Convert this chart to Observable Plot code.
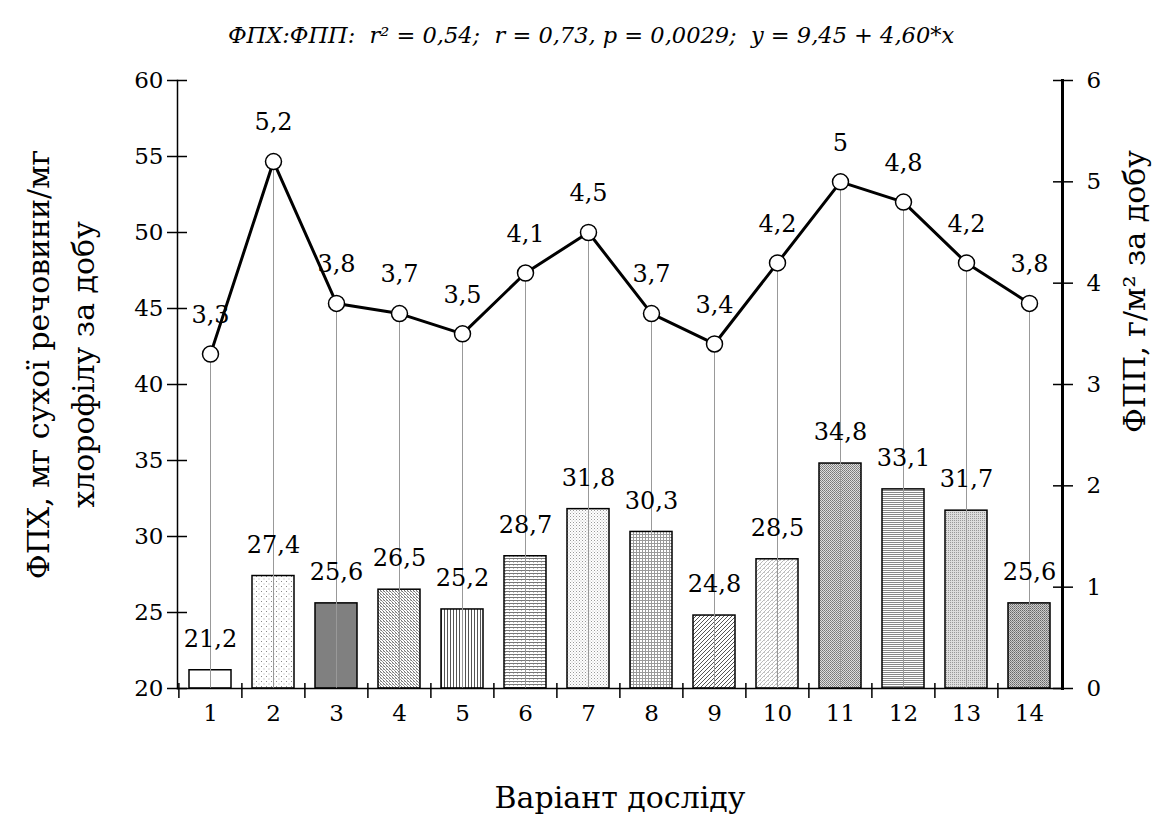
<!DOCTYPE html>
<html><head><meta charset="utf-8">
<script src="https://cdn.jsdelivr.net/npm/d3@7"></script>
<script src="https://cdn.jsdelivr.net/npm/@observablehq/plot@0.6"></script>
<style>
body{margin:0;background:#fff}
svg text{white-space:pre;}
</style>
</head><body><div id="chart"></div>
<script>
const variants = ["1","2","3","4","5","6","7","8","9","10","11","12","13","14"];
const fph = [21.2, 27.4, 25.6, 26.5, 25.2, 28.7, 31.8, 30.3, 24.8, 28.5, 34.8, 33.1, 31.7, 25.6];
const fpp = [3.3, 5.2, 3.8, 3.7, 3.5, 4.1, 4.5, 3.7, 3.4, 4.2, 5.0, 4.8, 4.2, 3.8];
const fphTicks = [20, 25, 30, 35, 40, 45, 50, 55, 60];
const fppTicks = [0, 1, 2, 3, 4, 5, 6];
const barPatterns = ["p1","p2","p3","p4","p5","p6","p7","p8","p9","p10","p11","p12","p13","p14"];
const titleText = "ФПХ:ФПП:  r² = 0,54;  r = 0,73, p = 0,0029;  y = 9,45 + 4,60*x";
const xTitle = "Варіант досліду";
const yTitleLeft = "ФПХ, мг сухої речовини/мг\nхлорофілу за добу";
const yTitleRight = "ФПП, г/м² за добу";

const toLeft = v => 20 + v * 40 / 6;
const toRight = v => (v - 20) * 6 / 40;
const fmt = v => String(v).replace(".", ",");
const rows = variants.map((v, i) => ({v, fph: fph[i], fpp: fpp[i], pat: `url(#${barPatterns[i]})`}));

const W = 1156, H = 816, mL = 177, mR = 94, mT = 80, mB = 128;
const step = (W - mL - mR) / variants.length;
const FF = "DejaVu Serif";

const chart = Plot.plot({
  width: W, height: H,
  marginLeft: mL, marginRight: mR, marginTop: mT, marginBottom: mB,
  style: {fontFamily: FF, fontSize: "23px", background: "#fff", color: "#000"},
  x: {type: "band", domain: variants, paddingInner: 0.33, paddingOuter: 0.165, label: null},
  y: {domain: [20, 60], label: null},
  marks: [
    Plot.barY(rows, {x: "v", y1: 20, y2: "fph", fill: "pat", stroke: "#000", strokeWidth: 1.5}),
    Plot.ruleX(rows, {x: "v", y1: 20, y2: d => toLeft(d.fpp), stroke: "#999", strokeWidth: 1}),
    Plot.line(rows, {x: "v", y: d => toLeft(d.fpp), stroke: "#000", strokeWidth: 3}),
    Plot.dot(rows, {x: "v", y: d => toLeft(d.fpp), r: 8, fill: "#fff", stroke: "#000", strokeWidth: 1.5}),
    Plot.text(rows, {x: "v", y: "fph", text: d => fmt(d.fph), dy: -31, fontSize: 24, fontFamily: FF, lineAnchor: "middle", fill: "#000"}),
    Plot.text(rows, {x: "v", y: d => toLeft(d.fpp), text: d => fmt(d.fpp), dy: -39, fontSize: 24, fontFamily: FF, lineAnchor: "middle", fill: "#000"}),
    Plot.frame({anchor: "left", stroke: "#000", strokeWidth: 1.5}),
    Plot.frame({anchor: "right", stroke: "#000", strokeWidth: 3}),
    Plot.frame({anchor: "bottom", stroke: "#000", strokeWidth: 1.5}),
    Plot.axisY({ticks: fphTicks, tickSize: 20, dx: 10, tickPadding: 4, fontSize: 23, fontFamily: FF, strokeWidth: 1.5}),
    Plot.axisY({anchor: "right", ticks: fppTicks.map(toLeft), tickFormat: d => String(Math.round(toRight(d))), tickSize: 20, dx: -10, tickPadding: 14, fontSize: 23, fontFamily: FF, strokeWidth: 1.5}),
    Plot.axisX({tickSize: 15, dx: -step / 2, dy: -5, tickFormat: () => "", strokeWidth: 1.5}),
    Plot.axisX({tickSize: 0, tickPadding: 16, fontSize: 23, fontFamily: FF}),
    Plot.text([titleText], {frameAnchor: "top", dx: -29, dy: -45, fontSize: 22.5, fontStyle: "italic", fontFamily: FF, lineAnchor: "middle", fill: "#000"}),
    Plot.text([xTitle], {frameAnchor: "bottom", dy: 110, fontSize: 30, fontFamily: FF, lineAnchor: "middle", fill: "#000"}),
    Plot.text([yTitleLeft], {frameAnchor: "left", textAnchor: "middle", dx: -120, dy: -20, rotate: -90, fontSize: 30, fontFamily: FF, lineHeight: 1.5, lineAnchor: "middle", fill: "#000"}),
    Plot.text([yTitleRight], {frameAnchor: "right", textAnchor: "middle", dx: 73, dy: -93, rotate: -90, fontSize: 30, fontFamily: FF, lineAnchor: "middle", fill: "#000"})
  ]
});

const defs = `
<defs>
<pattern id="p1" patternUnits="userSpaceOnUse" width="4" height="4"><rect width="4" height="4" fill="#fff"/></pattern>
<pattern id="p2" patternUnits="userSpaceOnUse" width="5" height="5"><rect width="5" height="5" fill="#fff"/><rect x="1" y="1" width="1" height="1" fill="#888"/><rect x="3.5" y="3.5" width="1" height="1" fill="#aaa"/></pattern>
<pattern id="p3" patternUnits="userSpaceOnUse" width="4" height="4"><rect width="4" height="4" fill="#808080"/></pattern>
<pattern id="p4" patternUnits="userSpaceOnUse" width="3" height="3"><rect width="3" height="3" fill="#fff"/><rect x="0" y="0" width="1" height="1" fill="#777"/><rect x="1" y="1" width="1" height="1" fill="#999"/><rect x="2" y="2" width="1" height="1" fill="#777"/><rect x="2" y="0" width="1" height="1" fill="#bbb"/></pattern>
<pattern id="p5" patternUnits="userSpaceOnUse" width="3" height="3"><rect width="3" height="3" fill="#fff"/><rect x="0" y="0" width="1" height="3" fill="#555"/></pattern>
<pattern id="p6" patternUnits="userSpaceOnUse" width="4" height="3"><rect width="4" height="3" fill="#fff"/><rect x="0" y="0" width="4" height="1" fill="#777"/><rect x="1" y="1" width="1" height="1" fill="#bbb"/></pattern>
<pattern id="p7" patternUnits="userSpaceOnUse" width="3" height="3"><rect width="3" height="3" fill="#fff"/><rect x="0" y="0" width="1" height="1" fill="#999"/><rect x="1.5" y="1.5" width="1" height="1" fill="#bbb"/></pattern>
<pattern id="p8" patternUnits="userSpaceOnUse" width="3" height="3"><rect width="3" height="3" fill="#fff"/><rect x="0" y="0" width="3" height="1" fill="#999"/><rect x="0" y="0" width="1" height="3" fill="#999"/></pattern>
<pattern id="p9" patternUnits="userSpaceOnUse" width="4" height="4"><rect width="4" height="4" fill="#fff"/><path d="M-1,1 L1,-1 M0,4 L4,0 M3,5 L5,3" stroke="#555" stroke-width="1"/></pattern>
<pattern id="p10" patternUnits="userSpaceOnUse" width="4" height="4"><rect width="4" height="4" fill="#fff"/><path d="M-1,1 L1,-1 M0,4 L4,0 M3,5 L5,3" stroke="#bbb" stroke-width="1"/><rect x="0" y="0" width="1" height="1" fill="#ccc"/></pattern>
<pattern id="p11" patternUnits="userSpaceOnUse" width="2" height="2"><rect width="2" height="2" fill="#ddd"/><rect x="0" y="0" width="1" height="1" fill="#777"/><rect x="1" y="1" width="1" height="1" fill="#888"/></pattern>
<pattern id="p12" patternUnits="userSpaceOnUse" width="4" height="4"><rect width="4" height="4" fill="#fff"/><path d="M0,1 L1,0 L2,1 L3,0 L4,1 M0,3 L1,2 L2,3 L3,2 L4,3" stroke="#888" stroke-width="1" fill="none"/></pattern>
<pattern id="p13" patternUnits="userSpaceOnUse" width="2" height="2"><rect width="2" height="2" fill="#ddd"/><rect x="0" y="0" width="1" height="1" fill="#999"/></pattern>
<pattern id="p14" patternUnits="userSpaceOnUse" width="2" height="2"><rect width="2" height="2" fill="#ccc"/><rect x="0" y="0" width="1" height="1" fill="#666"/><rect x="1" y="1" width="1" height="1" fill="#888"/></pattern>
</defs>`;
chart.insertAdjacentHTML("afterbegin", defs);
document.getElementById("chart").appendChild(chart);
</script>
</body></html>
